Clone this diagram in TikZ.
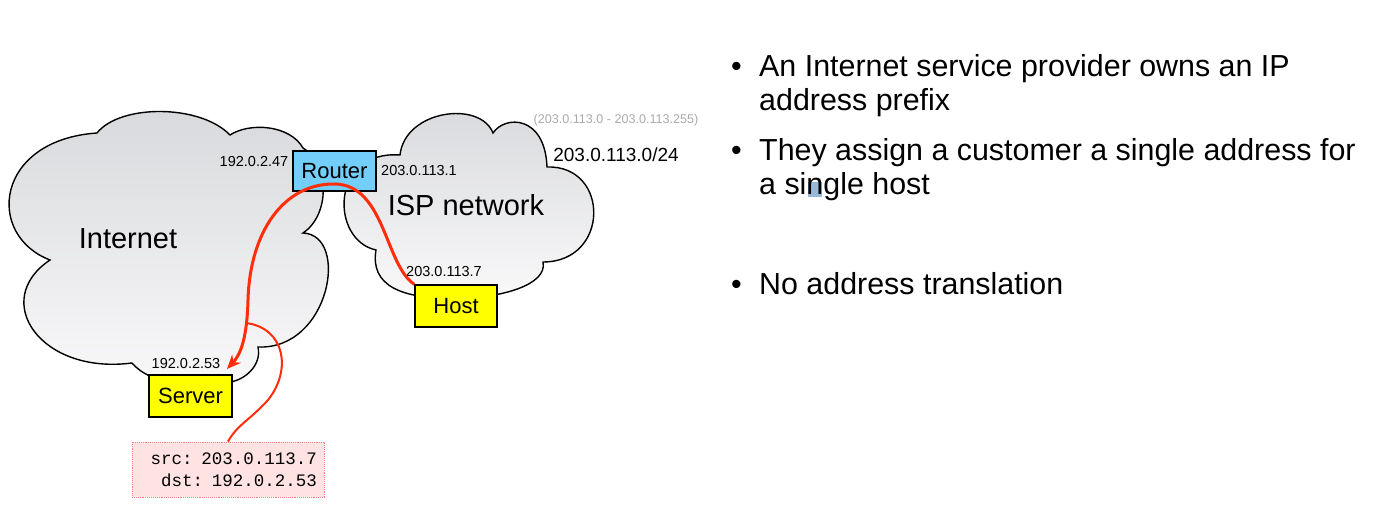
\documentclass[tikz,border=0pt]{standalone}
\usepackage{fontspec}
\setmainfont{Liberation Sans}
\setmonofont{Liberation Mono}
\usetikzlibrary{arrows.meta}

\definecolor{routerblue}{RGB}{115,207,250}
\definecolor{boxyellow}{RGB}{255,255,0}
\definecolor{pathred}{RGB}{255,45,10}
\definecolor{pktfill}{RGB}{255,226,226}
\definecolor{pktborder}{RGB}{240,130,130}
\definecolor{rangegray}{RGB}{170,170,170}
\definecolor{cloudtop}{RGB}{216,217,220}
\definecolor{cloudbot}{RGB}{249,249,250}
\definecolor{selblue}{RGB}{150,185,215}

\newcommand{\fsz}[1]{\fontsize{#1}{#1}\selectfont}

\begin{document}
\begin{tikzpicture}[x=1pt,y=-1pt,
  cloudshape/.style={draw=black, line width=1.4pt, top color=cloudtop, bottom color=cloudbot},
  devbox/.style={draw=black, line width=1.4pt, inner sep=0pt, font=\fsz{22}},
  iplabel/.style={inner sep=0pt, font=\fsz{14.5}},
  bigtext/.style={inner sep=0pt, font=\fsz{29}},
  bullettext/.style={inner sep=0pt, anchor=base west, font=\fsz{30.4}},
  pktbox/.style={draw=pktborder, densely dotted, line width=0.9pt, fill=pktfill,
    text width=178pt, inner xsep=7pt, inner ysep=0pt, minimum height=55pt,
    align=right, font=\ttfamily\fontsize{17.5}{21.7}\selectfont},
  redarrow/.style={draw=pathred, line width=3pt, -{Stealth[length=14pt,width=12pt]}},
  redline/.style={draw=pathred, line width=2pt}]

\useasboundingbox (0,0) rectangle (1381,510);
\fill[white] (0,0) rectangle (1381,510);

% Internet cloud
\path[cloudshape] (97,133) .. controls (120,104) and (200,104) .. (230,135)
  .. controls (250,122) and (290,125) .. (303,148)
  .. controls (330,165) and (330,215) .. (303,233)
  .. controls (350,235) and (330,350) .. (258,347)
  .. controls (262,365) and (245,380) .. (230,382)
  .. controls (200,390) and (150,385) .. (132,363)
  .. controls (40,375) and (-10,300) .. (50,260)
  .. controls (-15,235) and (-5,140) .. (97,133) -- cycle;

% ISP cloud
\path[cloudshape] (400,155) .. controls (405,110) and (480,100) .. (493,133)
  .. controls (505,115) and (545,115) .. (547,167)
  .. controls (610,165) and (610,262) .. (543,262)
  .. controls (548,285) and (500,298) .. (460,298)
  .. controls (400,300) and (370,285) .. (376,250)
  .. controls (330,240) and (330,150) .. (400,155) -- cycle;

\node[bigtext] (inet) at (128,239) {Internet};
\node[bigtext] (isp) at (466,205) {ISP network};

% devices
\node[devbox, fill=routerblue, minimum width=83pt, minimum height=40pt] (router) at (334.5,171) {Router};
\node[devbox, fill=boxyellow, minimum width=82pt, minimum height=42pt] (host) at (456,306) {Host};
\node[devbox, fill=boxyellow, minimum width=83pt, minimum height=42pt] (server) at (190.5,396) {Server};

% address labels
\node[iplabel] (lrin) at (254,162) {192.0.2.47};
\node[iplabel] (lrout) at (419,171) {203.0.113.1};
\node[iplabel] (lhost) at (444,272) {203.0.113.7};
\node[iplabel] (lsrv) at (186,364) {192.0.2.53};
\node[inner sep=0pt, font=\fsz{19}] (prefix) at (616,155) {203.0.113.0/24};
\node[inner sep=0pt, font=\fsz{12.6}, text=rangegray] (range) at (616,120) {(203.0.113.0 - 203.0.113.255)};

% packet
\node[pktbox] (packet) at (228,469.5) {src: 203.0.113.7\\dst: 192.0.2.53};

% red paths
\coordinate (srvtip) at (227,369);
\coordinate (branch) at (246,323);
\draw[redarrow] (host.north west) .. controls (385,265) and (385,185) .. (335,184)
  .. controls (285,183) and (250,230) .. (248,300)
  .. controls (247,340) and (240,355) .. (srvtip);
\draw[redline] (branch) .. controls (285,328) and (292,370) .. (268,400)
  .. controls (250,420) and (237,425) .. (packet.north);

% bullets
\fill[selblue] (808,182) rectangle (822,197);
\node[bullettext] (d1) at (731,77) {•};
\node[bullettext] (t1a) at (759,77) {An Internet service provider owns an IP};
\node[bullettext] (t1b) at (759,111) {address prefix};
\node[bullettext] (d2) at (731,161) {•};
\node[bullettext] (t2a) at (759,161) {They assign a customer a single address for};
\node[bullettext] (t2b) at (759,195) {a single host};
\node[bullettext] (d3) at (731,295) {•};
\node[bullettext] (t3) at (759,295) {No address translation};
\end{tikzpicture}
\end{document}
